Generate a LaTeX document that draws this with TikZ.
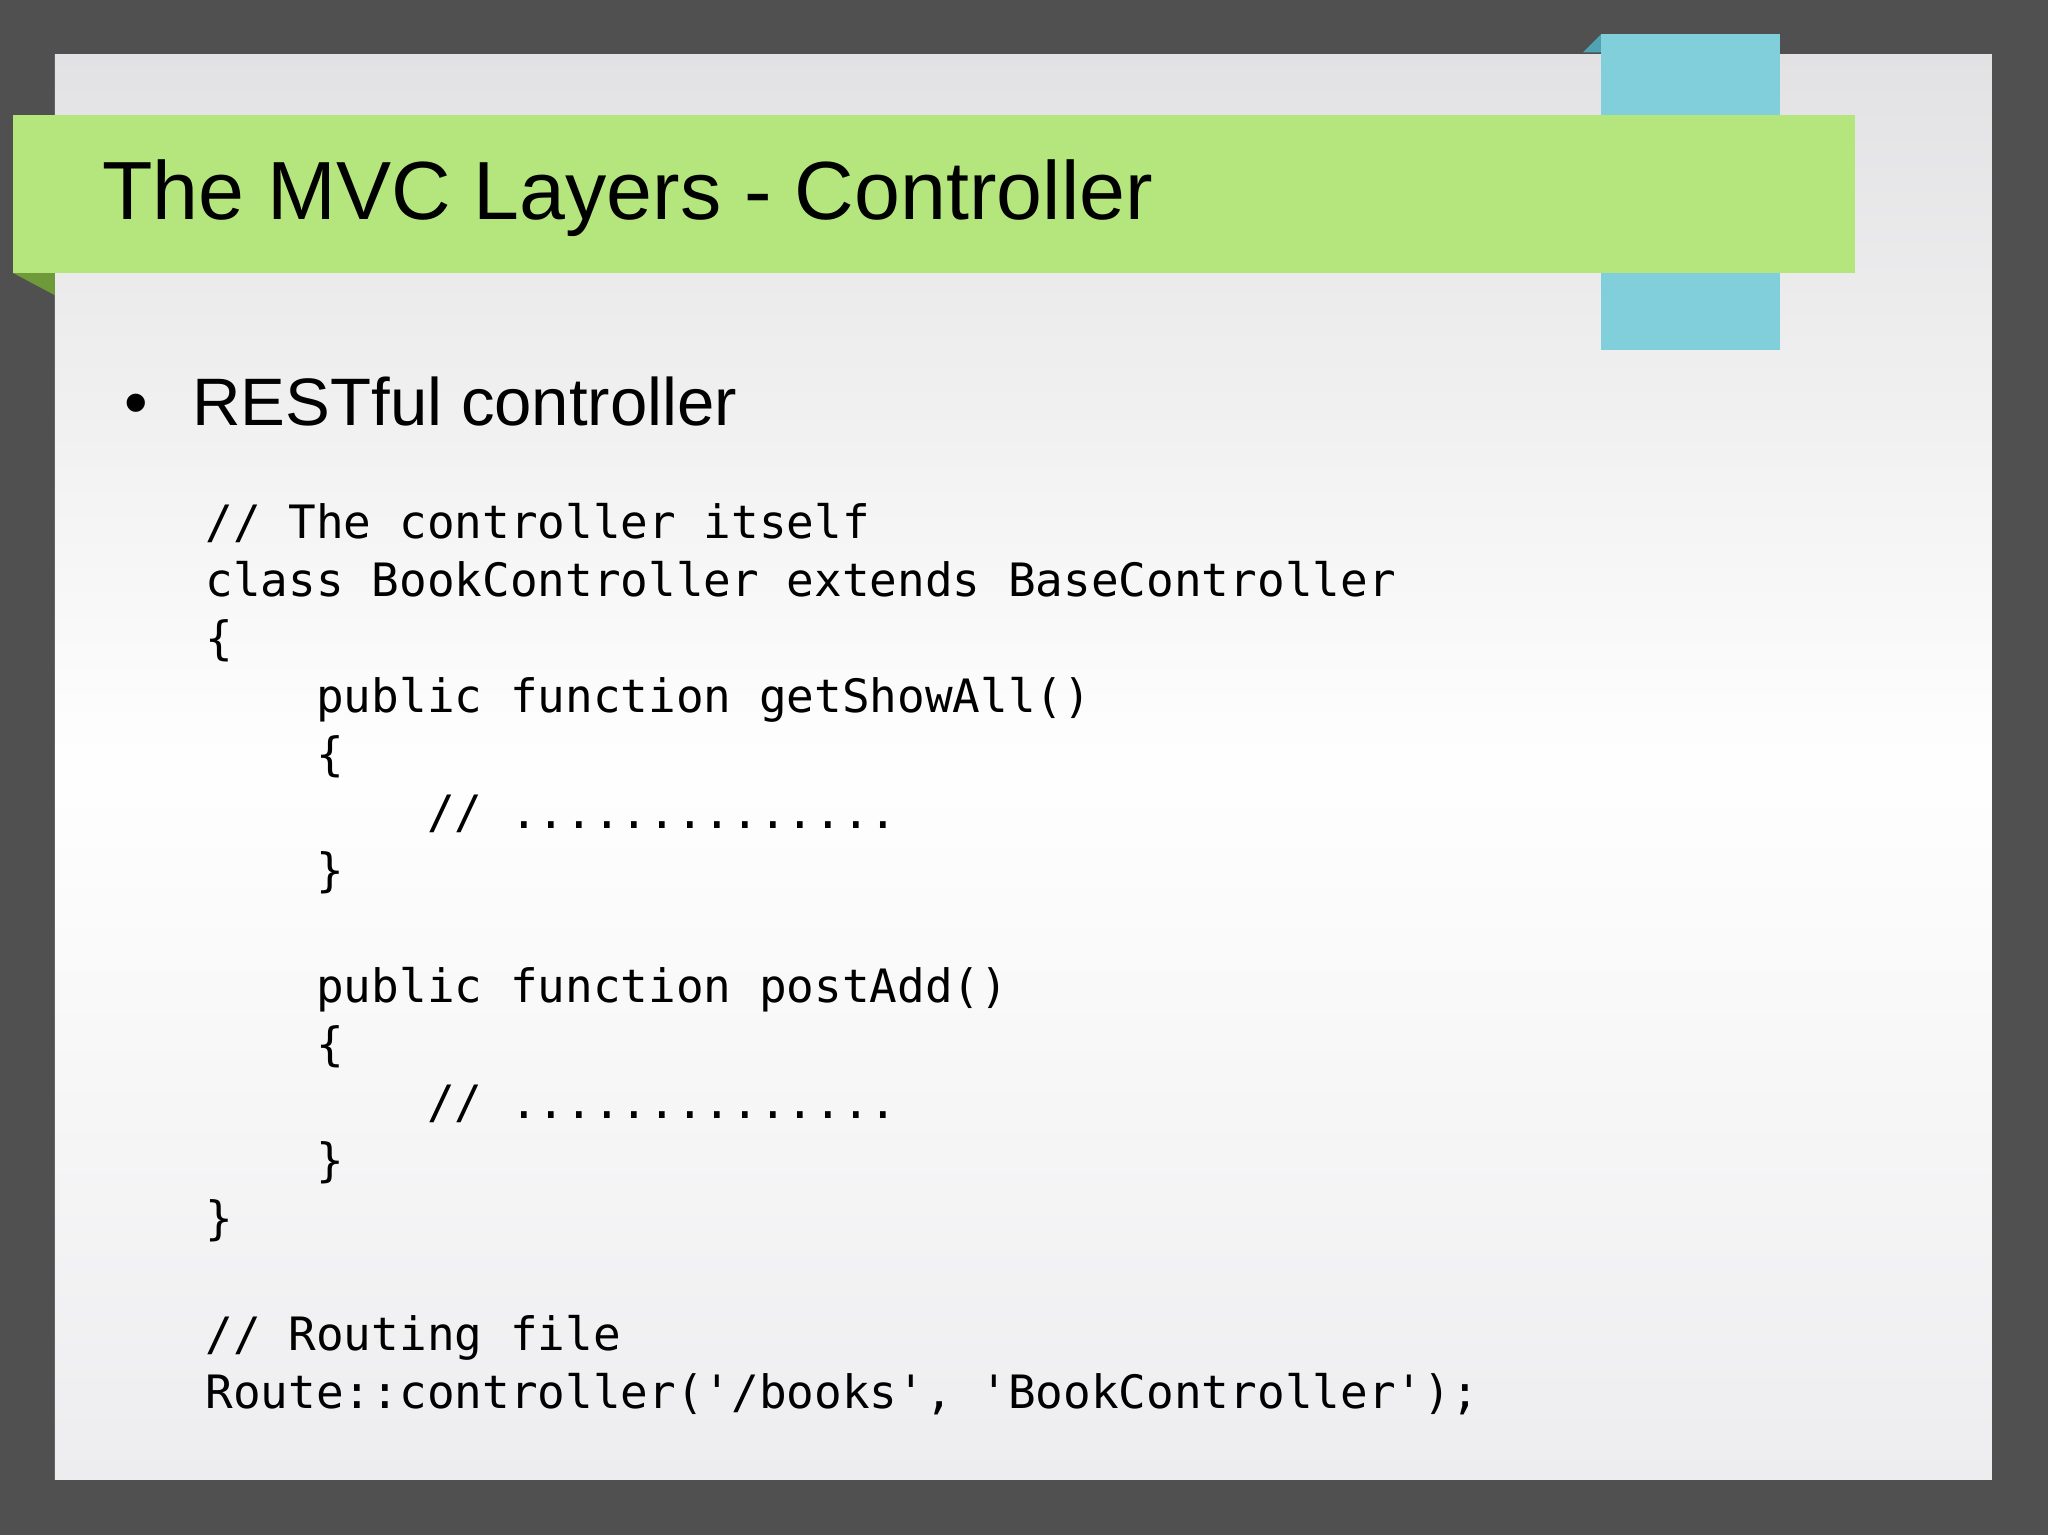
\documentclass[tikz,border=0pt]{standalone}
\usepackage{fontspec}
\setmainfont{Liberation Sans}
\newfontfamily\codefont{DejaVu Sans Mono}
\definecolor{bgdark}{HTML}{505050}
\definecolor{slidebg}{HTML}{EDEDEF}
\definecolor{bandgreen}{HTML}{B5E67E}
\definecolor{darkgreen}{HTML}{6E9A3A}
\definecolor{tabblue}{HTML}{80CFDB}
\definecolor{tabdark}{HTML}{4FA3B3}
\tikzset{codeline/.style={anchor=base west,inner sep=0pt,font=\codefont\fontsize{17.6pt}{20pt}\selectfont}}
\begin{document}
\begin{tikzpicture}[x=0.5pt,y=-0.5pt]
\useasboundingbox (0,0) rectangle (1568,1175);
\fill[bgdark] (0,0) rectangle (1568,1175);
\shade[top color=slidebg!90!gray,bottom color=slidebg,middle color=white!97!slidebg] (42,42) rectangle (1525,1133);
\fill[tabdark] (1212,40) -- (1226,26) -- (1226,40) -- cycle;
\fill[tabblue] (1226,26) rectangle (1363,268);
\fill[darkgreen] (10,209) -- (42,209) -- (42,226) -- cycle;
\fill[bandgreen] (10,88) rectangle (1420,209);
\node[anchor=base west,inner sep=0pt,font=\fontsize{31.6pt}{34pt}\selectfont] (title) at (78,168) {The MVC Layers - Controller};
\node[anchor=base west,inner sep=0pt,font=\fontsize{25.7pt}{28pt}\selectfont] (bullet) at (95,326) {•};
\node[anchor=base west,inner sep=0pt,font=\fontsize{25.7pt}{28pt}\selectfont] (item) at (147,326) {RESTful controller};
\foreach \i/\t in {0/{// The controller itself},
 1/{class BookController extends BaseController},
 2/{\{},
 3/{\ \ \ \ public function getShowAll()},
 4/{\ \ \ \ \{},
 5/{\ \ \ \ \ \ \ \ // ..............},
 6/{\ \ \ \ \}},
 8/{\ \ \ \ public function postAdd()},
 9/{\ \ \ \ \{},
 10/{\ \ \ \ \ \ \ \ // ..............},
 11/{\ \ \ \ \}},
 12/{\}},
 14/{// Routing file},
 15/{Route::controller('/books', 'BookController');}}
 \node[codeline] (code\i) at (157,{412+44.4*\i}) {\t};
\end{tikzpicture}
\end{document}
